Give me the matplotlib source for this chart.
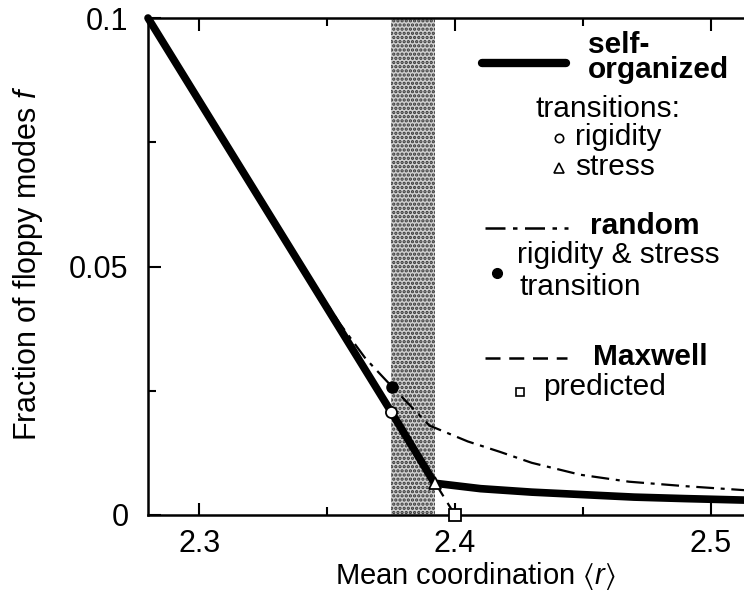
import matplotlib
matplotlib.use("Agg")
import matplotlib.pyplot as plt
from matplotlib.lines import Line2D
from matplotlib.ticker import MultipleLocator, FixedLocator, FixedFormatter

plt.rcParams['font.family'] = ['Liberation Sans', 'DejaVu Sans']
plt.rcParams['mathtext.fontset'] = 'custom'
plt.rcParams['mathtext.rm'] = 'Liberation Sans'
plt.rcParams['mathtext.it'] = 'Liberation Sans:italic'
plt.rcParams['mathtext.fallback'] = 'stixsans'
plt.rcParams['hatch.linewidth'] = 1.6

# ---------------- data ----------------
# Maxwell counting (mean-field) prediction
maxwell_r = [2.28, 2.40]
maxwell_f = [0.100, 0.000]

# self-organized network
selforg_r = [2.28, 2.375, 2.392, 2.41, 2.43, 2.45, 2.47, 2.49, 2.513]
selforg_f = [0.100, 0.0208, 0.0064, 0.0053, 0.0046, 0.0041, 0.0036, 0.0033, 0.0030]

# random network
random_r = [2.28, 2.32, 2.34, 2.355, 2.365, 2.3754, 2.39, 2.405, 2.4176, 2.43,
            2.449, 2.468, 2.49, 2.513]
random_f = [0.100, 0.0667, 0.0505, 0.0385, 0.0315, 0.0258, 0.0180, 0.0148, 0.0127,
            0.0105, 0.0081, 0.0067, 0.0058, 0.0050]

# transitions
rigidity_pt = (2.375, 0.0208)     # self-organized rigidity transition
stress_pt = (2.392, 0.0064)       # self-organized stress transition
random_pt = (2.3754, 0.0258)      # random rigidity & stress transition
maxwell_pt = (2.40, 0.0)          # Maxwell prediction

x_ticks = [2.3, 2.4, 2.5]
x_ticklabels = ["2.3", "2.4", "2.5"]
y_ticks = [0.0, 0.05, 0.1]
y_ticklabels = ["0", "0.05", "0.1"]

# ---------------- figure ----------------
W, H = 744, 592
fig = plt.figure(figsize=(W / 100, H / 100), dpi=100)
ax = fig.add_axes([148 / W, 77 / H, 614 / W, 497 / H])
ax.set_xlim(2.28, 2.52)
ax.set_ylim(0, 0.1)

FS = 21.5      # legend text
TFS = 22       # tick labels
LFS = 22       # y axis label
XLFS = 21      # x axis label

# intermediate phase band
ax.axvspan(rigidity_pt[0], stress_pt[0], facecolor='#d0d0d0', edgecolor='#333333',
           hatch='....', linewidth=0, zorder=0)

ax.plot(maxwell_r, maxwell_f, color='black', lw=1.6, dashes=(6, 3.5), zorder=2,
        clip_on=False)
ax.plot(random_r, random_f, color='black', lw=1.6, dashes=(8, 3, 1.8, 3), zorder=2,
        clip_on=False)
ax.plot(selforg_r, selforg_f, color='black', lw=5.5, solid_capstyle='round',
        solid_joinstyle='round', zorder=3, clip_on=False)

ax.plot(*random_pt, 'o', ms=8, mfc='black', mec='black', zorder=4)
ax.plot(*rigidity_pt, 'o', ms=8, mfc='white', mec='black', mew=1.3, zorder=5)
ax.plot(*stress_pt, '^', ms=9, mfc='white', mec='black', mew=1.3, zorder=5)
ax.plot(*maxwell_pt, 's', ms=8, mfc='white', mec='black', mew=1.3, zorder=5,
        clip_on=False)

# spines / ticks
for s in ['left', 'bottom', 'top']:
    ax.spines[s].set_linewidth(1.8)
ax.spines['right'].set_visible(False)

ax.xaxis.set_major_locator(FixedLocator(x_ticks))
ax.xaxis.set_major_formatter(FixedFormatter(x_ticklabels))
ax.xaxis.set_minor_locator(MultipleLocator(0.05))
ax.yaxis.set_major_locator(FixedLocator(y_ticks))
ax.yaxis.set_major_formatter(FixedFormatter(y_ticklabels))
ax.yaxis.set_minor_locator(MultipleLocator(0.025))
ax.tick_params(axis='x', which='both', direction='in', top=True, bottom=True,
               labelsize=TFS, pad=10)
ax.tick_params(axis='y', which='both', direction='in', left=True, right=False,
               labelsize=TFS, pad=14)
ax.tick_params(which='major', length=9, width=1.5)
ax.tick_params(which='minor', length=6, width=1.5)

ax.set_xlabel(r'Mean coordination $\langle r\rangle$', fontsize=XLFS)
ax.set_ylabel(r'Fraction of floppy modes $f$', fontsize=LFS)
ax.xaxis.set_label_coords(475 / W, 1 - 560 / H, transform=fig.transFigure)
ax.yaxis.set_label_coords(45 / W, 1 - 263 / H, transform=fig.transFigure)


# ---------------- legend (hand-placed) ----------------
def fx(x):
    return x / W


def fy(y):
    return 1 - y / H


def fline(x1, x2, y, **kw):
    fig.add_artist(Line2D([fx(x1), fx(x2)], [fy(y), fy(y)],
                          transform=fig.transFigure, color='black', **kw))


def fmark(x, y, **kw):
    fig.add_artist(Line2D([fx(x)], [fy(y)], transform=fig.transFigure,
                          linestyle='none', color='black', **kw))


def ftext(x, y, s, bold=False, **kw):
    fig.text(fx(x), fy(y), s, fontsize=FS, ha='left', va='baseline',
             fontweight='bold' if bold else 'normal', **kw)


fline(482, 566, 63, lw=6, solid_capstyle='round')
ftext(588, 78, 'self-\norganized', bold=True, linespacing=0.85)
fig.text(fx(608), fy(117), 'transitions:', fontsize=FS, ha='center', va='baseline')
fmark(559, 138, marker='o', ms=6, mfc='white', mec='black', mew=1.2)
ftext(575, 145, 'rigidity')
fmark(559, 168, marker='^', ms=7, mfc='white', mec='black', mew=1.2)
ftext(575, 175, 'stress')

fline(485, 568, 228, lw=1.8, dashes=(8, 3, 1.8, 3))
ftext(590, 234, 'random', bold=True)
fmark(497, 273, marker='o', ms=7, mfc='black', mec='black')
ftext(517, 263, 'rigidity & stress')
ftext(519, 295, 'transition')

fline(485, 567, 358, lw=1.8, dashes=(6, 3.5))
ftext(593, 365, 'Maxwell', bold=True)
fmark(520, 392, marker='s', ms=6, mfc='white', mec='black', mew=1.2)
ftext(543, 395, 'predicted')

fig.savefig('out.png', dpi=100)
